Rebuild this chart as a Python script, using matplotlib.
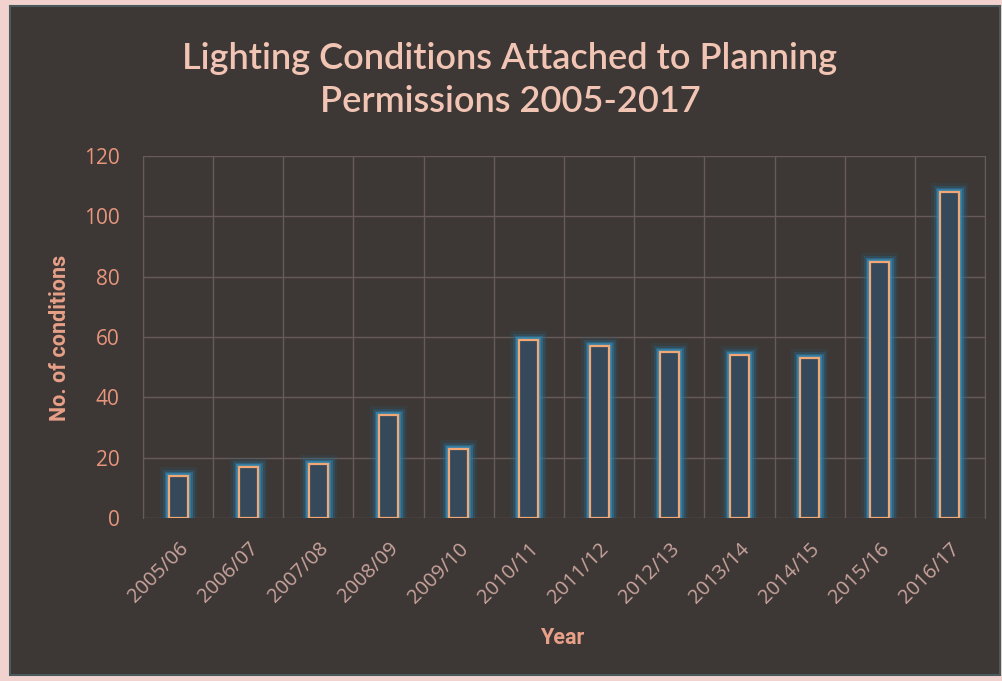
import matplotlib
matplotlib.use("Agg")
import matplotlib.pyplot as plt
import matplotlib.patheffects as pe
from matplotlib.patches import Rectangle

years = ["2005/06", "2006/07", "2007/08", "2008/09", "2009/10", "2010/11",
         "2011/12", "2012/13", "2013/14", "2014/15", "2015/16", "2016/17"]
conditions = [14, 17, 18, 34, 23, 59, 57, 55, 54, 53, 85, 108]
yticks = [0, 20, 40, 60, 80, 100, 120]

W, H = 1003, 681
fig = plt.figure(figsize=(W / 100, H / 100), dpi=100)
fig.patch.set_facecolor("#f2d2ce")
panel = Rectangle((10 / W, 6 / H), 990 / W, 669 / H, transform=fig.transFigure,
                  facecolor="#3d3836", edgecolor="#4a5a5c", linewidth=1.5, zorder=-10)
fig.patches.append(panel)

ax = fig.add_axes([143 / W, 1 - 518 / H, (985 - 143) / W, (518 - 156) / H])
ax.set_zorder(5)
ax.set_facecolor("none")

x = list(range(len(years)))
bars = ax.bar(x, conditions, width=0.27, facecolor="#35495a", edgecolor="#f2a876",
              linewidth=1.6, zorder=3)
for b in bars:
    b.set_path_effects([
        pe.Stroke(linewidth=13, foreground="#285a78", alpha=0.18),
        pe.Stroke(linewidth=9.5, foreground="#2b6d92", alpha=0.3),
        pe.Stroke(linewidth=6.5, foreground="#3080aa", alpha=0.45),
        pe.Stroke(linewidth=4, foreground="#3a92bd", alpha=0.7),
        pe.Normal(),
    ])

ax.set_xlim(-0.5, len(years) - 0.5)
ax.set_ylim(0, 120)
ax.set_yticks(yticks)
ax.set_xticks([i - 0.5 for i in range(len(years) + 1)], minor=False)
ax.set_xticklabels([])
ax.set_xticks(x, minor=True)
ax.set_xticklabels(years, minor=True, rotation=45, ha="right", rotation_mode="anchor",
                   color="#c9a39c", fontsize=14.5, family="Open Sans")
ax.tick_params(axis="x", which="both", length=0, pad=15)
ax.tick_params(axis="y", length=0, pad=17, labelcolor="#e8957c", labelsize=15)
for lab in ax.get_yticklabels():
    lab.set_family("Open Sans")
ax.grid(True, which="major", color="#665b58", linewidth=1.0, zorder=1)
for s in ax.spines.values():
    s.set_visible(False)
ax.spines["left"].set_visible(True)
ax.spines["left"].set_color("#665b58")
ax.spines["right"].set_visible(True)
ax.spines["right"].set_color("#665b58")

fig.text(510 / W, 1 - 80 / H, "Lighting Conditions Attached to Planning\nPermissions 2005-2017",
         ha="center", va="center", color="#f2c4b4", fontsize=26, family="Lato",
         fontweight="semibold", linespacing=1.4)
fig.text(562 / W, 1 - 638 / H, "Year", ha="center", va="center", color="#e8a088",
         fontsize=15.5, fontweight="bold", family="Roboto")
fig.text(60 / W, 1 - 338 / H, "No. of conditions", ha="center", va="center",
         rotation=90, color="#e8a088", fontsize=15.5, fontweight="bold",
         family="Roboto")

fig.savefig("out.png", dpi=100, facecolor=fig.get_facecolor())
